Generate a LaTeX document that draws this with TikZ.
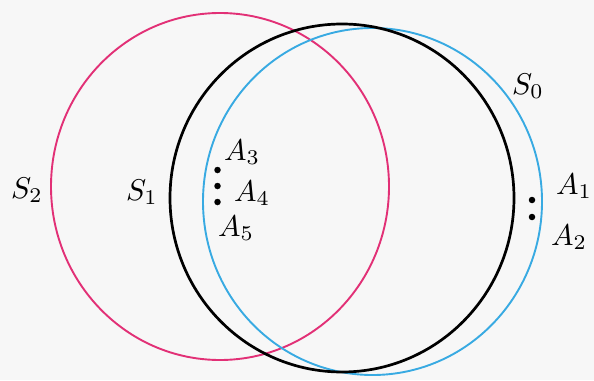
\documentclass[tikz,border=0pt]{standalone}
\definecolor{pinkc}{RGB}{226,48,118}
\definecolor{bluec}{RGB}{56,170,226}
\definecolor{bgc}{RGB}{247,247,247}
\begin{document}
\begin{tikzpicture}[x=1pt,y=-1pt,
  lbl/.style={scale=3.0,inner sep=0pt},
  dot/.style={circle,fill=black,inner sep=0pt,minimum size=6.5pt}]
\fill[bgc] (0,0) rectangle (594,380);
\useasboundingbox (0,0) rectangle (594,380);
% circles
\draw[pinkc,line width=1.9pt] (220,186.5) ellipse [x radius=169,y radius=173.5];
\draw[bluec,line width=1.9pt] (372.5,201.5) ellipse [x radius=169.5,y radius=173.5];
\draw[black,line width=2.7pt] (342,198) ellipse [x radius=172,y radius=174];
% dots
\node[dot] (d3) at (217.5,170) {};
\node[dot] (d4) at (217.5,186) {};
\node[dot] (d5) at (217.5,202) {};
\node[dot] (d1) at (532,200) {};
\node[dot] (d2) at (532,217) {};
% labels
\node[lbl] (s2) at (27,190) {$S_2$};
\node[lbl] (s1) at (142,192) {$S_1$};
\node[lbl] (s0) at (528,86) {$S_0$};
\node[lbl] (a3) at (242,152) {$A_3$};
\node[lbl] (a4) at (252,193) {$A_4$};
\node[lbl] (a5) at (236,228) {$A_5$};
\node[lbl] (a1) at (574,186) {$A_1$};
\node[lbl] (a2) at (569,237) {$A_2$};
\end{tikzpicture}
\end{document}
